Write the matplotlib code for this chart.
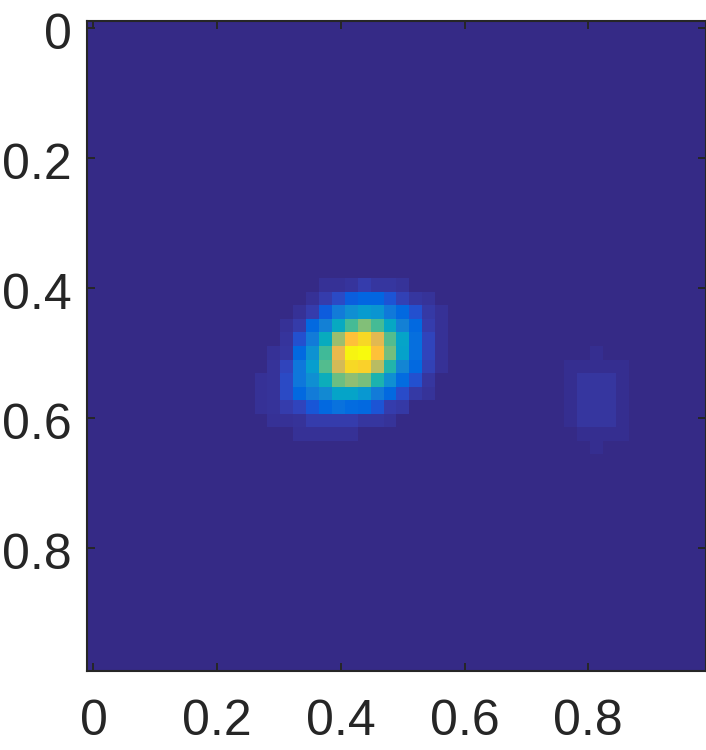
#!/usr/bin/env python3
""" heatmap of a 48x48 grid with one strong blob and one faint blob """
import numpy as np
import matplotlib
matplotlib.use("Agg")
import matplotlib.pyplot as plt
from matplotlib.colors import LinearSegmentedColormap
from matplotlib.transforms import ScaledTranslation

# main blob, rows 19-30, columns 13-27
main_blob = [
    [0, 0, 0, 0, 0, .02, .02, .03, .05, .035, .035, .025, 0, 0, 0],
    [0, 0, 0, 0, .02, .05, .08, .12, .14, .14, .10, .06, .035, .025, 0],
    [0, 0, 0, .02, .05, .115, .22, .29, .33, .31, .21, .15, .09, .04, .02],
    [0, 0, .02, .045, .15, .24, .40, .53, .61, .53, .39, .24, .15, .05, .02],
    [0, 0, .03, .09, .22, .41, .65, .85, .92, .78, .55, .37, .17, .07, .02],
    [0, .02, .035, .15, .30, .52, .80, .985, 1.0, .85, .59, .36, .17, .07, .02],
    [0, .025, .07, .20, .34, .55, .75, .92, .90, .70, .47, .26, .15, .06, .02],
    [.02, .025, .08, .20, .29, .42, .58, .63, .60, .46, .29, .16, .09, .035, 0],
    [.02, .025, .08, .15, .22, .27, .37, .37, .32, .22, .15, .085, .04, .025, 0],
    [.02, .025, .05, .07, .105, .15, .18, .16, .15, .10, .05, .04, 0, 0, 0],
    [0, .02, .02, .025, .05, .05, .05, .05, .035, .035, .025, 0, 0, 0, 0],
    [0, 0, 0, .02, .02, .02, .02, .02, 0, 0, 0, 0, 0, 0, 0],
]
# faint blob, rows 24-31, columns 37-41
side_blob = [
    [0, 0, .015, 0, 0],
    [.015, .015, .015, .015, .015],
    [.015, .035, .035, .035, .015],
    [.015, .035, .035, .035, .015],
    [.015, .035, .035, .035, .015],
    [.015, .035, .035, .035, .015],
    [0, .015, .015, .015, .015],
    [0, 0, .015, 0, 0],
]
tick_values = [0, 0.2, 0.4, 0.6, 0.8]
tick_labels = ["0", "0.2", "0.4", "0.6", "0.8"]

parula_stops = [
    (0.2081, 0.1663, 0.5292), (0.2116, 0.1898, 0.5777), (0.2123, 0.2138, 0.6270),
    (0.2081, 0.2386, 0.6771), (0.1959, 0.2645, 0.7279), (0.1707, 0.2919, 0.7792),
    (0.1253, 0.3242, 0.8303), (0.0591, 0.3598, 0.8683), (0.0117, 0.3875, 0.8820),
    (0.0060, 0.4086, 0.8828), (0.0165, 0.4266, 0.8786), (0.0329, 0.4430, 0.8720),
    (0.0498, 0.4586, 0.8641), (0.0629, 0.4737, 0.8554), (0.0723, 0.4887, 0.8467),
    (0.0779, 0.5040, 0.8384), (0.0793, 0.5200, 0.8312), (0.0749, 0.5375, 0.8263),
    (0.0641, 0.5570, 0.8240), (0.0488, 0.5772, 0.8228), (0.0343, 0.5966, 0.8199),
    (0.0265, 0.6137, 0.8135), (0.0239, 0.6287, 0.8038), (0.0231, 0.6418, 0.7913),
    (0.0228, 0.6535, 0.7768), (0.0267, 0.6642, 0.7607), (0.0384, 0.6743, 0.7436),
    (0.0590, 0.6838, 0.7254), (0.0843, 0.6928, 0.7062), (0.1133, 0.7015, 0.6859),
    (0.1453, 0.7098, 0.6646), (0.1801, 0.7177, 0.6424), (0.2178, 0.7250, 0.6193),
    (0.2586, 0.7317, 0.5954), (0.3022, 0.7376, 0.5712), (0.3482, 0.7424, 0.5473),
    (0.3953, 0.7459, 0.5244), (0.4420, 0.7481, 0.5033), (0.4871, 0.7491, 0.4840),
    (0.5300, 0.7491, 0.4661), (0.5709, 0.7485, 0.4494), (0.6099, 0.7473, 0.4337),
    (0.6473, 0.7456, 0.4188), (0.6834, 0.7435, 0.4044), (0.7184, 0.7411, 0.3905),
    (0.7525, 0.7384, 0.3768), (0.7858, 0.7356, 0.3633), (0.8185, 0.7327, 0.3498),
    (0.8507, 0.7299, 0.3360), (0.8824, 0.7274, 0.3217), (0.9139, 0.7258, 0.3063),
    (0.9450, 0.7261, 0.2886), (0.9739, 0.7314, 0.2666), (0.9938, 0.7455, 0.2403),
    (0.9990, 0.7653, 0.2164), (0.9955, 0.7861, 0.1967), (0.9880, 0.8066, 0.1794),
    (0.9789, 0.8271, 0.1633), (0.9697, 0.8481, 0.1475), (0.9626, 0.8705, 0.1309),
    (0.9589, 0.8949, 0.1132), (0.9598, 0.9218, 0.0948), (0.9661, 0.9514, 0.0755),
    (0.9763, 0.9831, 0.0538),
]
parula = LinearSegmentedColormap.from_list("parula", parula_stops)

grid = np.zeros((48, 48))
grid[19:31, 13:28] = main_blob
grid[24:32, 37:42] = side_blob

plt.rcParams['font.family'] = ['Liberation Sans', 'DejaVu Sans']
dark = '#262626'

fig = plt.figure(figsize=(7.06, 7.5), dpi=100)
ax = fig.add_axes([87 / 706, 1 - 671 / 750, 618.5 / 706, 650 / 750])
half = 0.5 / 48
ax.imshow(grid, cmap=parula, vmin=0, vmax=1, interpolation='nearest', aspect='auto',
          extent=[-half, 1 - half, 1 - half, -half])
ax.set_xticks(tick_values, tick_labels)
ax.set_yticks(tick_values, tick_labels)
ax.tick_params(direction='in', length=5.5, width=1.4, color=dark, labelcolor=dark,
               labelsize=36, top=True, right=True)
ax.tick_params(axis='x', pad=20)
ax.tick_params(axis='y', pad=11)
for spine in ax.spines.values():
    spine.set_color(dark)
    spine.set_linewidth(1.5)

# y labels sit a little below their ticks in the original
nudge = ScaledTranslation(0, -2.5 / 72, fig.dpi_scale_trans)
for label in ax.get_yticklabels():
    label.set_transform(label.get_transform() + nudge)

fig.savefig("out.png", dpi=100)
